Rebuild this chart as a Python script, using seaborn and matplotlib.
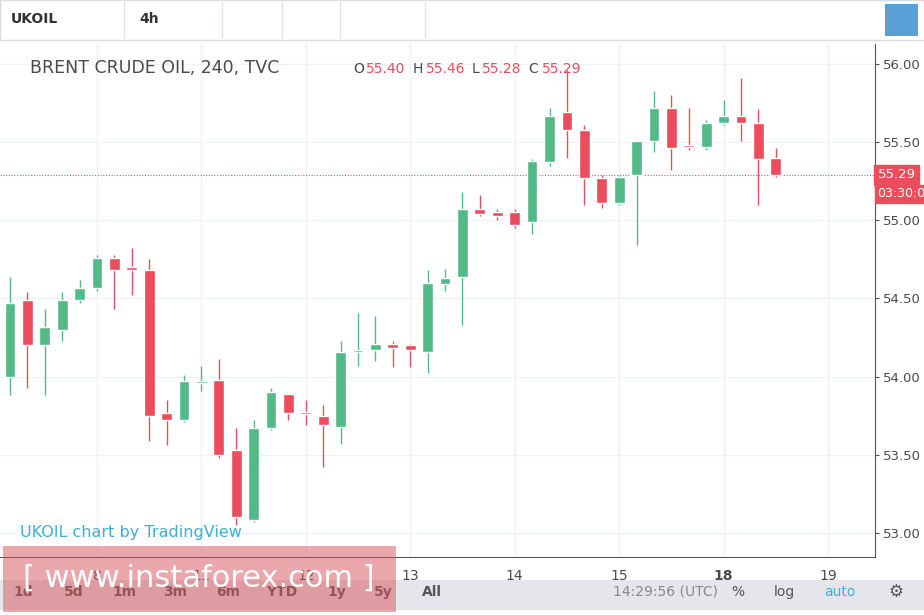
import matplotlib
matplotlib.use("Agg")
import matplotlib.pyplot as plt
import seaborn as sns
import pandas as pd
from matplotlib.patches import Rectangle

sns.set_style("white")
plt.rcParams['font.family'] = ['DejaVu Sans']

opens  = [54.00,54.49,54.20,54.30,54.49,54.57,54.76,54.70,54.68,53.77,53.72,53.96,53.98,53.53,53.08,53.67,53.89,53.77,53.75,53.68,54.16,54.17,54.21,54.20,54.16,54.59,54.64,55.07,55.05,55.05,54.99,55.37,55.69,55.58,55.27,55.11,55.29,55.51,55.72,55.48,55.47,55.62,55.67,55.62,55.40]
highs  = [54.64,54.54,54.43,54.54,54.62,54.78,54.78,54.82,54.75,53.85,54.01,54.07,54.11,53.67,53.72,53.93,53.89,53.85,53.82,54.23,54.41,54.39,54.23,54.21,54.68,54.69,55.18,55.16,55.07,55.07,55.39,55.72,55.96,55.61,55.29,55.29,55.51,55.83,55.80,55.72,55.64,55.77,55.91,55.71,55.46]
lows   = [53.88,53.93,53.88,54.23,54.47,54.55,54.43,54.52,53.59,53.56,53.71,53.91,53.48,53.05,53.07,53.66,53.72,53.69,53.42,53.57,54.07,54.10,54.06,54.06,54.02,54.55,54.33,55.03,55.00,54.95,54.91,55.35,55.40,55.10,55.08,55.10,54.84,55.44,55.32,55.45,55.45,55.61,55.51,55.10,55.28]
closes = [54.47,54.20,54.32,54.49,54.57,54.76,54.68,54.68,53.75,53.72,53.97,53.97,53.50,53.10,53.67,53.90,53.77,53.76,53.69,54.16,54.17,54.21,54.18,54.17,54.60,54.63,55.07,55.04,55.03,54.97,55.38,55.67,55.58,55.27,55.11,55.28,55.51,55.72,55.46,55.47,55.62,55.67,55.62,55.39,55.29]
day_labels = ["8", "11", "12", "13", "14", "15", "18", "19"]
day_starts = [5, 11, 17, 23, 29, 35, 41, 47]
price_ticks = [53.0, 53.5, 54.0, 54.5, 55.0, 55.5, 56.0]

df = pd.DataFrame({"o": opens, "h": highs, "l": lows, "c": closes})
df["i"] = range(len(df))
GREEN, RED = "#53b987", "#eb4d5c"
df["col"] = [GREEN if c >= o else RED for o, c in zip(df.o, df.c)]

fig = plt.figure(figsize=(9.24, 6.15), dpi=100)
ax = fig.add_axes([0, 1 - 557/615, 875/924, (557-44)/615])
ax.set_xlim(-0.57, 49.7)
ax.set_ylim(52.846, 56.128)
for x in day_starts:
    ax.axvline(x, color="#eef1f5", lw=1, zorder=0)
for y in price_ticks:
    ax.axhline(y, color="#eef1f5", lw=1, zorder=0)

ax.vlines(df.i, df.l, df.h, colors=df.col, lw=1, zorder=2)
bottoms = df[["o", "c"]].min(axis=1)
heights = (df.o - df.c).abs().clip(lower=0.012)
ax.bar(df.i, heights, bottom=bottoms, width=0.62, color=df.col, zorder=3)

last = closes[-1]
ax.axhline(last, color=RED, lw=0.8, ls=(0, (1, 1.5)), zorder=1)

ax.yaxis.tick_right()
ax.set_yticks(price_ticks)
ax.set_yticklabels([f"{p:.2f}" for p in price_ticks], fontsize=9.5, color="#4a4a4a")
ax.set_xticks(day_starts)
ax.set_xticklabels(day_labels, fontsize=10, color="#4a4a4a")
for lab in ax.get_xticklabels():
    if lab.get_text() == "18":
        lab.set_fontweight("bold")
ax.tick_params(axis="x", length=3, color="#555555", pad=6)
ax.tick_params(axis="y", length=3, color="#555555", pad=3)
for s in ["top", "left"]:
    ax.spines[s].set_visible(False)
for s in ["right", "bottom"]:
    ax.spines[s].set_color("#555555")

# last-price label
ax.text(1.003, (last - 52.846) / (56.128 - 52.846), f"{last:.2f}", transform=ax.transAxes,
        fontsize=9.5, color="white", va="center", ha="left",
        bbox=dict(boxstyle="square,pad=0.25", fc=RED, ec=RED), clip_on=False)
ax.text(1.003, (55.17 - 52.846) / (56.128 - 52.846), "03:30:0", transform=ax.transAxes,
        fontsize=9, color="white", va="center", ha="left",
        bbox=dict(boxstyle="square,pad=0.2", fc=RED, ec=RED), clip_on=False)

# title
fig.text(0.033, 1 - 68/615, "BRENT CRUDE OIL, 240, TVC", fontsize=12.5, color="#4a4a4a", va="center")
fig.text(0.382, 1 - 69/615, "O", fontsize=10, color="#4a4a4a", va="center")
fig.text(0.396, 1 - 69/615, "55.40", fontsize=10, color=RED, va="center")
fig.text(0.447, 1 - 69/615, "H", fontsize=10, color="#4a4a4a", va="center")
fig.text(0.461, 1 - 69/615, "55.46", fontsize=10, color=RED, va="center")
fig.text(0.510, 1 - 69/615, "L", fontsize=10, color="#4a4a4a", va="center")
fig.text(0.522, 1 - 69/615, "55.28", fontsize=10, color=RED, va="center")
fig.text(0.572, 1 - 69/615, "C", fontsize=10, color="#4a4a4a", va="center")
fig.text(0.586, 1 - 69/615, "55.29", fontsize=10, color=RED, va="center")
fig.text(0.022, 1 - 532/615, "UKOIL chart by TradingView", fontsize=11.5, color="#3eaed6", va="center")

# top toolbar
fig.patches.append(Rectangle((0, 1 - 40/615), 1, 40/615, transform=fig.transFigure, fc="white", ec="#d8dbe0", lw=1))
fig.text(0.012, 1 - 19/615, "UKOIL", fontsize=10, fontweight="bold", color="#333333", va="center")
fig.text(0.151, 1 - 19/615, "4h", fontsize=10, fontweight="bold", color="#333333", va="center")
for xp in [0.134, 0.24, 0.305, 0.368, 0.46]:
    fig.lines.append(plt.Line2D([xp, xp], [1 - 38/615, 1 - 2/615], transform=fig.transFigure, color="#e0e3eb", lw=1))
fig.patches.append(Rectangle((0.958, 1 - 36/615), 0.035, 32/615, transform=fig.transFigure, fc="#5a9fd6", ec="none"))

# bottom toolbar
fig.patches.append(Rectangle((0, 0.008), 1, 30/615, transform=fig.transFigure, fc="#e4e6eb", ec="none"))
for lab, xp in [("1d", 0.025), ("5d", 0.08), ("1m", 0.135), ("3m", 0.19), ("6m", 0.247), ("YTD", 0.305),
                ("1y", 0.365), ("5y", 0.415), ("All", 0.468)]:
    fig.text(xp, 0.038, lab, fontsize=10, color="#555555", va="center", ha="center", fontweight="bold")
fig.text(0.72, 0.038, "14:29:56 (UTC)", fontsize=10, color="#888888", va="center", ha="center")
fig.text(0.798, 0.038, "%", fontsize=10, color="#555555", va="center", ha="center")
fig.text(0.849, 0.038, "log", fontsize=10, color="#555555", va="center", ha="center")
fig.text(0.909, 0.038, "auto", fontsize=10, color="#3eaed6", va="center", ha="center")
fig.text(0.97, 0.038, "⚙", fontsize=12, color="#555555", va="center", ha="center")

# watermark
fig.patches.append(Rectangle((0.003, 1 - 612/615), 0.426, 66/615, transform=fig.transFigure,
                             fc="#d9535a", alpha=0.5, ec="none", zorder=10))
fig.text(0.215, 1 - 578/615, "[ www.instaforex.com ]", fontsize=22, color="white", va="center",
         ha="center", zorder=11)

fig.savefig("out.png", dpi=100)
